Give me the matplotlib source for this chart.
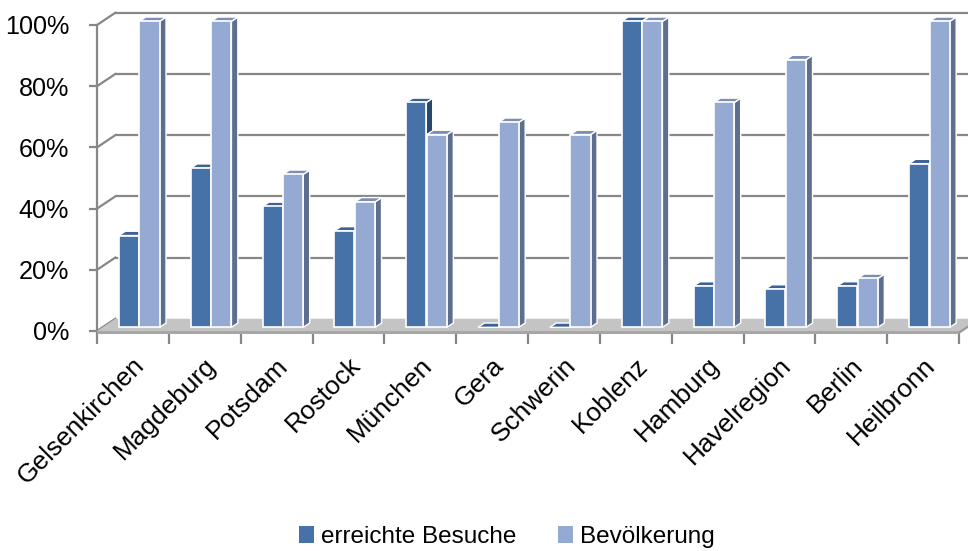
import matplotlib
matplotlib.use("Agg")
import matplotlib.pyplot as plt
from matplotlib import font_manager as fm
from matplotlib.patches import Patch
import matplotlib.transforms as mtransforms

# ---------------- data ----------------
categories = ["Gelsenkirchen", "Magdeburg", "Potsdam", "Rostock", "München", "Gera",
              "Schwerin", "Koblenz", "Hamburg", "Havelregion", "Berlin", "Heilbronn"]
besuche = [30, 52, 39.5, 31.5, 73.5, 0, 0, 100, 13.5, 12.5, 13.5, 53.5]
bevoelkerung = [100, 100, 50, 41, 63, 67, 63, 100, 73.5, 87.5, 16, 100]
series_names = ["erreichte Besuche", "Bevölkerung"]
yticks = [0, 20, 40, 60, 80, 100]
ytick_labels = ["0%", "20%", "40%", "60%", "80%", "100%"]

# ---------------- style ----------------
names = {f.name for f in fm.fontManager.ttflist}
if "Liberation Sans Narrow" in names:
    NARROW, NSCALE = "Liberation Sans Narrow", 1.0
else:
    NARROW, NSCALE = "Liberation Sans", 0.84
NORMAL = "Liberation Sans"

front_col = ["#4672A8", "#94AAD2"]
top_col = ["#3A6296", "#7A8EB6"]
side_col = ["#294870", "#5E6F8E"]
grid_col = "#878787"

DX, DY = 0.255, 4.0          # depth offset of back wall (category units, percent units)
D0, D1 = 0.30, 0.65           # bar depth range (fraction of depth)
BW = 0.28                     # bar width
starts = [0.228, 0.515]       # bar left edge within category (depth-plane coords)

fig = plt.figure(figsize=(9.68, 5.51), dpi=100)
ax = fig.add_axes([97 / 968, 1 - 331 / 551, 862 / 968, 306 / 551])
ax.set_xlim(0, 12)
ax.set_ylim(0, 100)
ax.patch.set_visible(False)

n = len(categories)

# back wall gridlines + left wall diagonals
for v in yticks:
    if v > 0:
        ax.plot([DX, n + DX + 0.5], [v + DY, v + DY], color=grid_col, lw=1.6,
                clip_on=False, zorder=1, solid_capstyle="butt")
    ax.plot([0, DX], [v, v + DY], color=grid_col, lw=1.6, clip_on=False, zorder=1)

# floor
ax.fill([0, n, n + DX, DX], [0, 0, DY, DY], color="#C4C4C4", ec="none",
        clip_on=False, zorder=2)
ax.fill([0, n, n, 0], [-1.0, -1.0, 0, 0], color="#A6A6A6", ec="none",
        clip_on=False, zorder=2)
ax.fill([n, n + DX, n + DX, n], [-1.0, DY - 1.0, DY, 0], color="#9A9A9A", ec="none",
        clip_on=False, zorder=2)


def P(x, v, d):
    return x + d * DX, v + d * DY


z = 3
for i in range(n):
    for s, vals in enumerate([besuche, bevoelkerung]):
        v = vals[i]
        x0 = i + starts[s]
        x1 = x0 + BW
        # side face (right)
        pts = [P(x1, 0, D0), P(x1, 0, D1), P(x1, v, D1), P(x1, v, D0)]
        ax.fill(*zip(*pts), color=side_col[s], ec="white", lw=1.0, clip_on=False, zorder=z)
        # top face
        pts = [P(x0, v, D0), P(x1, v, D0), P(x1, v, D1), P(x0, v, D1)]
        ax.fill(*zip(*pts), color=top_col[s], ec="white", lw=1.0, clip_on=False, zorder=z)
        # front face
        if v > 0:
            pts = [P(x0, 0, D0), P(x1, 0, D0), P(x1, v, D0), P(x0, v, D0)]
            ax.fill(*zip(*pts), color=front_col[s], ec="white", lw=1.2,
                    clip_on=False, zorder=z)
        z += 1

# axes, ticks
for sp in ["top", "right", "bottom"]:
    ax.spines[sp].set_visible(False)
ax.spines["left"].set_color(grid_col)
ax.spines["left"].set_linewidth(1.6)
ax.spines["left"].set_zorder(1)

ax.set_yticks(yticks)
ax.set_yticklabels(ytick_labels, fontfamily=NARROW, fontsize=21.5 * NSCALE)
ax.tick_params(axis="y", length=6, width=1.6, color=grid_col, pad=14, labelcolor="black")

ax.set_xticks(range(n + 1))
ax.set_xticklabels([""] * (n + 1))
ax.tick_params(axis="x", which="major", length=9, width=1.6, color=grid_col, direction="out")
ax.set_xticks([i + 0.5 for i in range(n)], minor=True)
ax.set_xticklabels(categories, minor=True, fontfamily=NARROW, fontsize=22.5 * NSCALE)
ax.tick_params(axis="x", which="minor", length=0, pad=22)
off = mtransforms.ScaledTranslation(8 / 100, 0, fig.dpi_scale_trans)
for lab in ax.get_xticklabels(minor=True):
    lab.set_rotation(45)
    lab.set_ha("right")
    lab.set_va("center")
    lab.set_rotation_mode("anchor")
    lab.set_transform(lab.get_transform() + off)

# legend
handles = [Patch(facecolor=front_col[0], edgecolor="none"),
           Patch(facecolor=front_col[1], edgecolor="none")]
fig.legend(handles, series_names, loc="center", bbox_to_anchor=(507 / 968, 1 - 537 / 551),
           ncol=2, frameon=False, prop={"family": NORMAL, "size": 17.5},
           handlelength=0.62, handleheight=0.66, handletextpad=0.3, columnspacing=1.7,
           borderaxespad=0, borderpad=0)

fig.savefig("out.png", dpi=100, facecolor="white")
